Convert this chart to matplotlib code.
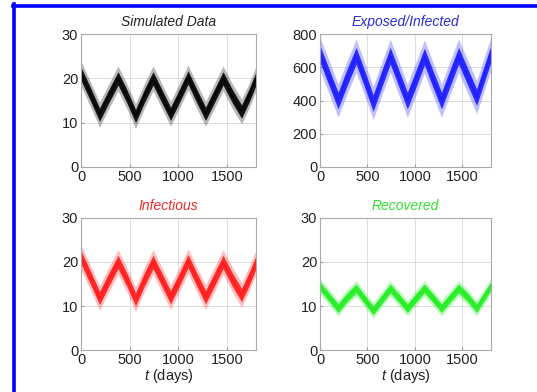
import numpy as np
import matplotlib
matplotlib.use("Agg")
import matplotlib.pyplot as plt
from matplotlib.lines import Line2D

plt.rcParams['font.family'] = ['Liberation Sans', 'DejaVu Sans']
plt.rcParams['mathtext.fontset'] = 'custom'
plt.rcParams['mathtext.it'] = 'Liberation Sans:italic'
plt.rcParams['mathtext.rm'] = 'Liberation Sans'

# time points (days) at peaks, troughs and midpoints
t = [0, 95, 190, 285, 380, 470, 560, 650, 740, 830, 920,
     1010, 1100, 1190, 1280, 1370, 1460, 1555, 1650, 1725, 1800]

# centre of the noisy band
sim_mid = [21, 16.5, 11.8, 16, 20, 16, 11.5, 16, 20, 16, 12,
           16, 20.2, 16, 12, 16, 20, 16, 12.5, 16, 20]
exp_mid = [680, 540, 400, 540, 670, 530, 385, 530, 670, 535, 400,
           530, 665, 530, 400, 535, 670, 545, 420, 550, 680]
inf_mid = [21, 16.5, 11.8, 16, 20, 16, 11.5, 16, 20, 16, 12,
           16, 20.2, 16, 12, 16, 20, 16, 12.5, 16, 20]
rec_mid = [14.5, 12, 9.5, 12, 14, 11.5, 9, 11.5, 14, 11.8, 9.5,
           11.8, 14, 11.8, 9.5, 11.8, 14, 12, 9.5, 12, 14.5]

# half width of the dense band and of the spikes
sim_hw = [1.5, 2.8]
exp_hw = [50, 100]
inf_hw = [1.5, 2.8]
rec_hw = [1.0, 1.8]

titles = ['Simulated Data', 'Exposed/Infected', 'Infectious', 'Recovered']
colors = ['black', '#1a1aff', '#ff1a1a', '#22ee22']
title_colors = ['#222222', '#2a2ad0', '#ee2a2a', '#33dd33']
mids = [sim_mid, exp_mid, inf_mid, rec_mid]
hws = [sim_hw, exp_hw, inf_hw, rec_hw]
ylims = [(0, 30), (0, 800), (0, 30), (0, 30)]
yticks = [[0, 10, 20, 30], [0, 200, 400, 600, 800], [0, 10, 20, 30], [0, 10, 20, 30]]
xticks = [0, 500, 1000, 1500]

fig = plt.figure(figsize=(5.37, 3.92), dpi=100)
fig.patch.set_facecolor('white')

boxes = [[0.151, 0.574, 0.326, 0.339],
         [0.596, 0.574, 0.318, 0.339],
         [0.151, 0.107, 0.326, 0.337],
         [0.596, 0.107, 0.318, 0.337]]

for i in range(4):
    ax = fig.add_axes(boxes[i])
    m = np.array(mids[i], dtype=float)
    hw_in, hw_out = hws[i]
    ax.fill_between(t, m - hw_out, m + hw_out, color=colors[i], alpha=0.28, lw=0)
    ax.fill_between(t, m - hw_in, m + hw_in, color=colors[i], alpha=0.9, lw=0)
    ax.plot(t, m, color=colors[i], lw=0.8)
    ax.set_xlim(0, 1800)
    ax.set_ylim(*ylims[i])
    ax.set_xticks(xticks)
    ax.set_yticks(yticks[i])
    ax.grid(True, color='#d8d8d8', lw=0.6)
    ax.set_axisbelow(True)
    ax.tick_params(direction='in', length=2, color='#999999', labelsize=10.5,
                   labelcolor='#222222', pad=2)
    for s in ax.spines.values():
        s.set_color('#aaaaaa')
        s.set_linewidth(0.8)
    ax.set_title(titles[i], fontsize=10, style='italic', color=title_colors[i], pad=6)
    if i >= 2:
        ax.set_xlabel(r'$\it{t}$ (days)', fontsize=10.5, color='#222222', labelpad=0)

# blue frame lines (top and left)
fig.add_artist(Line2D([12.5 / 537, 1], [1 - 5.5 / 392, 1 - 5.5 / 392], color='#0000ff', lw=2.6))
fig.add_artist(Line2D([13.5 / 537, 13.5 / 537], [0, 1 - 4 / 392], color='#0000ff', lw=2.6))

fig.savefig('out.png', dpi=100, facecolor='white')
